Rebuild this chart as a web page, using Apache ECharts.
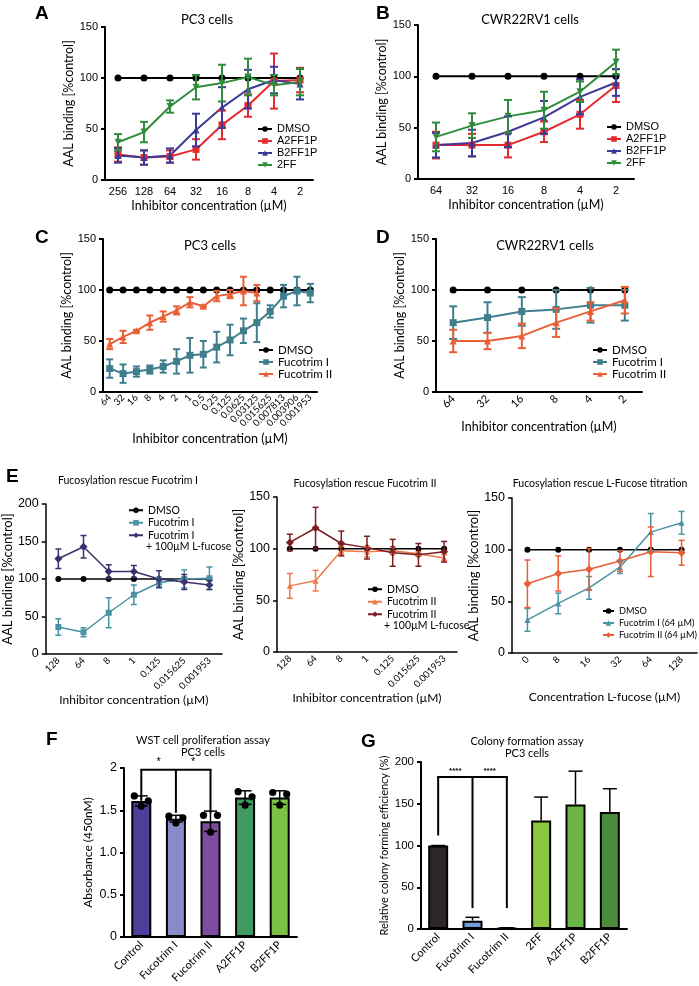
<!DOCTYPE html>
<html>
<head>
<meta charset="utf-8">
<script src="https://cdn.jsdelivr.net/npm/echarts@6/dist/echarts.min.js"></script>
<style>
html,body{margin:0;padding:0;background:#fff;}
#main{width:699px;height:986px;}
</style>
</head>
<body>
<div id="main"></div>
<script>
// ---- A: PC3 cells
const aDose = ['256', '128', '64', '32', '16', '8', '4', '2'];
const aDmso = [100, 100, 100, 100, 100, 100, 100, 100];
const aA2ff1p = [25, 22, 23, 30, 54, 73, 97, 98];
const aA2ff1pSd = [7, 7, 6, 10, 14, 11, 27, 12];
const aB2ff1p = [24, 22, 24, 49, 71, 89, 98, 94];
const aB2ff1pSd = [7, 7, 7, 16, 20, 19, 13, 15];
const a2ff = [37, 47, 72, 91, 95, 101, 93, 96];
const a2ffSd = [8, 10, 6, 12, 18, 18, 10, 13];

// ---- B: CWR22RV1 cells
const bDose = ['64', '32', '16', '8', '4', '2'];
const bDmso = [100, 100, 100, 100, 100, 100];
const bA2ff1p = [33, 33, 33, 46, 63, 91];
const bA2ff1pSd = [13, 11, 12, 10, 14, 16];
const bB2ff1p = [33, 35, 46, 60, 80, 94];
const bB2ff1pSd = [12, 13, 15, 16, 17, 13];
const b2ff = [41, 52, 61, 67, 85, 114];
const b2ffSd = [14, 12, 16, 18, 10, 12];

// ---- C: PC3 cells, Fucotrim
const cDose = ['64', '32', '16', '8', '4', '2', '1', '0.5', '0.25', '0.125', '0.0625',
  '0.03125', '0.015625', '0.007813', '0.003906', '0.001953'];
const cDmso = [100, 100, 100, 100, 100, 100, 100, 100, 100, 100, 100, 100, 100, 100, 100, 100];
const cFucI = [23, 18, 20, 22, 25, 30, 36, 37, 44, 51, 60, 68, 79, 94, 99, 97];
const cFucISd = [9, 9, 5, 4, 6, 12, 17, 13, 15, 15, 12, 19, 6, 11, 14, 9];
const cFucII = [47, 54, 60, 68, 74, 80, 88, 84, 94, 96, 99, 97];
const cFucIISd = [5, 6, 1, 7, 5, 4, 5, 1, 5, 4, 14, 8];

// ---- D: CWR22RV1 cells, Fucotrim
const dDose = ['64', '32', '16', '8', '4', '2'];
const dDmso = [100, 100, 100, 100, 100, 100];
const dFucI = [68, 73, 79, 81, 85, 85];
const dFucISd = [16, 15, 14, 19, 17, 15];
const dFucII = [50, 50, 55, 68, 79, 90];
const dFucIISd = [11, 8, 12, 14, 9, 13];

// ---- E: fucosylation rescue
const eDose = ['128', '64', '8', '1', '0.125', '0.015625', '0.001953'];
const e1Dmso = [100, 100, 100, 100, 100, 100, 100];
const e1FucI = [36, 29, 55, 79, 95, 100, 101];
const e1FucISd = [11, 6, 20, 13, 7, 12, 15];
const e1FucIFuc = [127, 143, 110, 110, 100, 96, 92];
const e1FucIFucSd = [13, 15, 9, 8, 11, 10, 6];

const e2Dmso = [100, 100, 100, 100, 100, 100, 100];
const e2FucII = [64, 69, 98, 97, 98, 95, 91];
const e2FucIISd = [12, 10, 4, 5, 3, 2, 3];
const e2FucIIFuc = [106, 120, 105, 101, 96, 94, 97];
const e2FucIIFucSd = [8, 20, 12, 11, 13, 11, 10];

const e3Fucose = ['0', '8', '16', '32', '64', '128'];
const e3Dmso = [100, 100, 100, 100, 100, 100];
const e3FucI = [32, 48, 63, 83, 117, 126];
const e3FucISd = [11, 10, 11, 6, 18, 11];
const e3FucII = [67, 77, 81, 89, 98, 97];
const e3FucIISd = [23, 17, 20, 10, 24, 12];

// ---- F: WST proliferation
const fGroups = ['Control', 'Fucotrim I', 'Fucotrim II', 'A2FF1P', 'B2FF1P'];
const fMean = [1.61, 1.40, 1.37, 1.65, 1.65];
const fSd = [0.06, 0.04, 0.12, 0.08, 0.08];
const fRepLeft = [1.67, 1.43, 1.44, 1.72, 1.71];
const fRepMid = [1.55, 1.35, 1.24, 1.56, 1.56];
const fRepRight = [1.61, 1.41, 1.44, 1.66, 1.69];
const fBracketTop = 1.98;
const fBracketLegs = [1.62, 1.47, 1.47];
const fStars = ['*', '*'];

// ---- G: colony formation
const gGroups = ['Control', 'Fucotrim I', 'Fucotrim II', '2FF', 'A2FF1P', 'B2FF1P'];
const gMean = [100, 10, 1, 130, 149, 140];
const gSd = [0, 4, 0.5, 28, 40, 28];
const gBracketTop = 182;
const gBracketLegs = [112, 25, 25];
const gStars = ['****', '****'];

const ARIAL = 'Liberation Sans';
const MYR = 'Lato';
const RED = '#e52a2f', BLUE = '#3b3a98', GREEN = '#2f8c3c';
const TEAL = '#3f7f8d', ORANGE = '#e95f38';
const E_TEAL = '#4a93a3', E_PURPLE = '#3b306c', E_ORANGE = '#f0794a', E_DARKRED = '#7a1f24';
const fColors = ['#4b3f9b', '#8b89c9', '#7e4b9f', '#3f9a62', '#7bc143'];
const gColors = ['#2b2628', '#6e9fd8', '#333', '#8dc63f', '#6ab544', '#4b8b3b'];

const grids = [
  {left: 105, top: 27, width: 208, height: 153},   // A
  {left: 418, top: 25, width: 216, height: 154},   // B
  {left: 103, top: 239, width: 214, height: 153},  // C
  {left: 436, top: 239, width: 206, height: 153},  // D
  {left: 39, top: 504, width: 183, height: 150},   // E1
  {left: 277, top: 497, width: 180, height: 155},  // E2
  {left: 512, top: 498, width: 185, height: 155},  // E3
  {left: 124, top: 768, width: 173, height: 169},  // F
  {left: 421, top: 762, width: 206, height: 167}   // G
];

function xAx(gi, cats, o) {
  return {
    gridIndex: gi, type: 'category', data: cats, boundaryGap: true,
    axisLine: {lineStyle: {color: '#000', width: o.lw || 2}},
    axisTick: {alignWithLabel: true, length: 4, lineStyle: {color: '#000', width: o.lw || 2}},
    axisLabel: {color: '#000', fontFamily: o.lf || ARIAL, fontSize: o.fs || 11, rotate: o.rot || 0,
      margin: o.margin || 6, interval: 0},
    name: o.name || '', nameLocation: 'middle', nameGap: o.gap || 20,
    nameTextStyle: {fontFamily: MYR, fontSize: o.nfs || 12.5, color: '#000'},
    splitLine: {show: false}
  };
}

function yAx(gi, max, interval, o) {
  return {
    gridIndex: gi, type: 'value', min: 0, max: max, interval: interval,
    axisLine: {show: true, lineStyle: {color: '#000', width: o.lw || 2}},
    axisTick: {show: true, length: 4, lineStyle: {color: '#000', width: o.lw || 2}},
    axisLabel: {color: '#000', fontFamily: ARIAL, fontSize: o.fs || 11, margin: o.margin || 7,
      formatter: o.fmt},
    name: o.name, nameLocation: 'middle', nameGap: o.gap || 28,
    nameTextStyle: {fontFamily: MYR, fontSize: o.nfs || 12.5, color: '#000'},
    splitLine: {show: false}
  };
}

function ln(name, gi, data, color, sym, o) {
  o = o || {};
  return {
    type: 'line', name: name, xAxisIndex: gi, yAxisIndex: gi, data: data,
    symbol: sym, symbolSize: o.ss || 7, symbolRotate: o.rot || 0,
    itemStyle: {color: color}, lineStyle: {color: color, width: o.lw || 2},
    z: o.z || 3, emphasis: {disabled: true}
  };
}

function errs(gi, vals, sds, color, o) {
  o = o || {};
  const data = vals.map((v, i) => [i, v - sds[i], v + sds[i]]);
  const cap = o.cap || 8, lw = o.lw || 2;
  return {
    type: 'custom', xAxisIndex: gi, yAxisIndex: gi, data: data, silent: true, z: o.z || 4,
    encode: {x: 0, y: [1, 2]},
    renderItem(params, api) {
      const x = api.value(0);
      const hi = api.coord([x, api.value(2)]);
      const lo = api.coord([x, o.upper ? vals[x] : api.value(1)]);
      const st = {stroke: color, lineWidth: lw};
      const kids = [
        {type: 'line', shape: {x1: hi[0], y1: hi[1], x2: lo[0], y2: lo[1]}, style: st},
        {type: 'line', shape: {x1: hi[0] - cap / 2, y1: hi[1], x2: hi[0] + cap / 2, y2: hi[1]}, style: st}
      ];
      if (!o.upper) {
        kids.push({type: 'line', shape: {x1: lo[0] - cap / 2, y1: lo[1], x2: lo[0] + cap / 2, y2: lo[1]}, style: st});
      }
      return {type: 'group', children: kids};
    }
  };
}

function bracket(gi, top, legs, stars, font) {
  return {
    type: 'custom', xAxisIndex: gi, yAxisIndex: gi, data: [[0, top]], silent: true, z: 6,
    renderItem(params, api) {
      const st = {stroke: '#000', lineWidth: 2};
      const a = api.coord([0, top]), b = api.coord([legs.length - 1, top]);
      const kids = [{type: 'line', shape: {x1: a[0] - 1, y1: a[1], x2: b[0] + 1, y2: b[1]}, style: st}];
      legs.forEach((v, i) => {
        const p = api.coord([i, top]), q = api.coord([i, v]);
        kids.push({type: 'line', shape: {x1: p[0], y1: p[1], x2: q[0], y2: q[1]}, style: st});
      });
      stars.forEach((s, i) => {
        const p = api.coord([i, top]), q = api.coord([i + 1, top]);
        kids.push({type: 'text', style: {text: s, x: (p[0] + q[0]) / 2, y: p[1] - 2,
          align: 'center', verticalAlign: 'bottom', font: font, fill: '#000'}});
      });
      return {type: 'group', children: kids};
    }
  };
}

function dots(gi, left, mid, right) {
  const offs = [-7, 0, 7];
  return {
    type: 'custom', xAxisIndex: gi, yAxisIndex: gi, silent: true, z: 5,
    data: left.map((v, i) => [i, v, mid[i], right[i]]),
    renderItem(params, api) {
      const x = api.value(0);
      const kids = [1, 2, 3].map((d, k) => {
        const p = api.coord([x, api.value(d)]);
        return {type: 'circle', shape: {cx: p[0] + offs[k], cy: p[1], r: 3.6}, style: {fill: '#000'}};
      });
      return {type: 'group', children: kids};
    }
  };
}

function legend(names, left, top, o) {
  o = o || {};
  return {
    data: names, left: left, top: top, orient: 'vertical', padding: 0, itemGap: o.gap || 0,
    itemWidth: o.iw || 14, itemHeight: 7, selectedMode: false,
    formatter: n => n.split('|')[1].replace('+', ''),
    textStyle: {fontFamily: o.font || ARIAL, fontSize: o.fs || 11, color: '#000', lineHeight: o.lh || 12}
  };
}

const fmtF = v => v === 0 ? '0' : (v === 2 ? '2' : v.toFixed(1));
const yNameAAL = 'AAL binding [%control]';
const xNameInh = 'Inhibitor concentration (\u00b5M)';

const option = {
  animation: false,
  backgroundColor: '#fff',
  grid: grids,
  title: [
    {text: 'A', left: 30, top: -1},
    {text: 'B', left: 371, top: -1},
    {text: 'C', left: 30, top: 223},
    {text: 'D', left: 371, top: 223},
    {text: 'E', left: 1, top: 462},
    {text: 'F', left: 41, top: 725},
    {text: 'G', left: 356, top: 727}
  ].map(t => Object.assign(t, {textStyle: {fontFamily: ARIAL, fontSize: 19, fontWeight: 'bold', color: '#000'}}))
   .concat([
    {text: 'PC3 cells', left: 207, top: 14},
    {text: 'CWR22RV1 cells', left: 530, top: 14},
    {text: 'PC3 cells', left: 210, top: 240},
    {text: 'CWR22RV1 cells', left: 545, top: 240},
    {text: 'Fucosylation rescue Fucotrim I', left: 128, top: 475, fs: 10.5},
    {text: 'Fucosylation rescue Fucotrim II', left: 365, top: 478, fs: 10.5},
    {text: 'Fucosylation rescue L-Fucose titration', left: 600, top: 478, fs: 10.5},
    {text: 'WST cell proliferation assay\nPC3 cells', left: 203, top: 734, fs: 11},
    {text: 'Colony formation assay\nPC3 cells', left: 527, top: 735, fs: 11}
  ].map(t => ({text: t.text, left: t.left, top: t.top, textAlign: 'center', padding: 0,
    textStyle: {fontFamily: MYR, fontSize: t.fs || 13, fontWeight: 'normal', color: '#000', lineHeight: 12}}))),
  legend: [
    legend(['A|DMSO', 'A|A2FF1P', 'A|B2FF1P', 'A|2FF'], 257, 123),
    legend(['B|DMSO', 'B|A2FF1P', 'B|B2FF1P', 'B|2FF'], 606, 121),
    legend(['C|DMSO', 'C|Fucotrim I', 'C|Fucotrim II'], 258, 344, {font: MYR, fs: 11.5}),
    legend(['D|DMSO', 'D|Fucotrim I', 'D|Fucotrim II'], 592, 344, {font: MYR, fs: 11.5}),
    legend(['E1|DMSO', 'E1|Fucotrim I', 'E1|Fucotrim I+'], 128, 504, {font: MYR, fs: 10.5, lh: 12.5}),
    legend(['E2|DMSO', 'E2|Fucotrim II', 'E2|Fucotrim II+'], 367, 583, {font: MYR, fs: 10.5, lh: 12.5}),
    legend(['E3|DMSO', 'E3|Fucotrim I (64 \u00b5M)', 'E3|Fucotrim II (64 \u00b5M)'], 602, 605,
      {font: MYR, fs: 9.2, lh: 12, iw: 11})
  ],
  graphic: [
    {type: 'text', x: 146, y: 541, style: {text: '+ 100\u00b5M L-fucose', font: '10.5px Lato', fill: '#000'}},
    {type: 'text', x: 384, y: 620, style: {text: '+ 100\u00b5M L-fucose', font: '10.5px Lato', fill: '#000'}}
  ],
  xAxis: [
    xAx(0, aDose, {name: xNameInh, gap: 19}),
    xAx(1, bDose, {name: xNameInh, gap: 19}),
    xAx(2, cDose, {name: xNameInh, gap: 40, rot: 45, fs: 9.5, lf: MYR, margin: 4}),
    xAx(3, dDose, {name: xNameInh, gap: 28, rot: 45, fs: 11, lf: MYR, margin: 5}),
    xAx(4, eDose, {name: xNameInh, gap: 38, rot: 45, fs: 9.5, lf: MYR, margin: 5, lw: 1.5, nfs: 12}),
    xAx(5, eDose, {name: xNameInh, gap: 39, rot: 45, fs: 9.5, lf: MYR, margin: 5, lw: 1.5, nfs: 12}),
    xAx(6, e3Fucose, {name: 'Concentration L-fucose (\u00b5M)', gap: 38, rot: 45, fs: 9.5, lf: MYR, margin: 5, lw: 1.5, nfs: 12}),
    xAx(7, fGroups, {rot: 45, fs: 11, lf: MYR, margin: 6}),
    xAx(8, gGroups, {rot: 45, fs: 11, lf: MYR, margin: 6})
  ],
  yAxis: [
    yAx(0, 150, 50, {name: yNameAAL, gap: 28}),
    yAx(1, 150, 50, {name: yNameAAL, gap: 28}),
    yAx(2, 150, 50, {name: yNameAAL, gap: 28}),
    yAx(3, 150, 50, {name: yNameAAL, gap: 28}),
    yAx(4, 200, 50, {name: yNameAAL, gap: 26, fs: 12.5, lw: 1.5, nfs: 13}),
    yAx(5, 150, 50, {name: yNameAAL, gap: 28, fs: 12.5, lw: 1.5, nfs: 13}),
    yAx(6, 150, 50, {name: yNameAAL, gap: 28, fs: 12.5, lw: 1.5, nfs: 13}),
    yAx(7, 2, 0.5, {name: 'Absorbance (450nM)', gap: 30, fs: 12.5, fmt: fmtF, nfs: 12}),
    yAx(8, 200, 50, {name: 'Relative colony forming efficiency (%)', gap: 31, fs: 11.5, nfs: 11})
  ],
  series: [
    // A
    ln('A|A2FF1P', 0, aA2ff1p, RED, 'rect'),
    errs(0, aA2ff1p, aA2ff1pSd, RED),
    ln('A|B2FF1P', 0, aB2ff1p, BLUE, 'triangle'),
    errs(0, aB2ff1p, aB2ff1pSd, BLUE),
    ln('A|2FF', 0, a2ff, GREEN, 'triangle', {rot: 180}),
    errs(0, a2ff, a2ffSd, GREEN),
    ln('A|DMSO', 0, aDmso, '#000', 'circle', {z: 2}),
    // B
    ln('B|A2FF1P', 1, bA2ff1p, RED, 'rect'),
    errs(1, bA2ff1p, bA2ff1pSd, RED),
    ln('B|B2FF1P', 1, bB2ff1p, BLUE, 'triangle'),
    errs(1, bB2ff1p, bB2ff1pSd, BLUE),
    ln('B|2FF', 1, b2ff, GREEN, 'triangle', {rot: 180}),
    errs(1, b2ff, b2ffSd, GREEN),
    ln('B|DMSO', 1, bDmso, '#000', 'circle', {z: 2}),
    // C
    ln('C|DMSO', 2, cDmso, '#000', 'circle', {z: 2}),
    ln('C|Fucotrim I', 2, cFucI, TEAL, 'rect'),
    errs(2, cFucI, cFucISd, TEAL, {cap: 7}),
    ln('C|Fucotrim II', 2, cFucII, ORANGE, 'triangle'),
    errs(2, cFucII, cFucIISd, ORANGE, {cap: 7}),
    // D
    ln('D|DMSO', 3, dDmso, '#000', 'circle', {z: 2}),
    ln('D|Fucotrim I', 3, dFucI, TEAL, 'rect'),
    errs(3, dFucI, dFucISd, TEAL),
    ln('D|Fucotrim II', 3, dFucII, ORANGE, 'triangle'),
    errs(3, dFucII, dFucIISd, ORANGE),
    // E1
    ln('E1|DMSO', 4, e1Dmso, '#000', 'circle', {lw: 1.5, ss: 6, z: 2}),
    ln('E1|Fucotrim I', 4, e1FucI, E_TEAL, 'rect', {lw: 1.5, ss: 6}),
    errs(4, e1FucI, e1FucISd, E_TEAL, {cap: 6, lw: 1.5}),
    ln('E1|Fucotrim I+', 4, e1FucIFuc, E_PURPLE, 'diamond', {lw: 1.5, ss: 8}),
    errs(4, e1FucIFuc, e1FucIFucSd, E_PURPLE, {cap: 6, lw: 1.5}),
    // E2
    ln('E2|DMSO', 5, e2Dmso, '#000', 'circle', {lw: 1.5, ss: 6, z: 2}),
    ln('E2|Fucotrim II', 5, e2FucII, E_ORANGE, 'triangle', {lw: 1.5, ss: 6}),
    errs(5, e2FucII, e2FucIISd, E_ORANGE, {cap: 6, lw: 1.5}),
    ln('E2|Fucotrim II+', 5, e2FucIIFuc, E_DARKRED, 'diamond', {lw: 1.5, ss: 8}),
    errs(5, e2FucIIFuc, e2FucIIFucSd, E_DARKRED, {cap: 6, lw: 1.5}),
    // E3
    ln('E3|DMSO', 6, e3Dmso, '#000', 'circle', {lw: 1.5, ss: 6, z: 2}),
    ln('E3|Fucotrim I (64 \u00b5M)', 6, e3FucI, E_TEAL, 'triangle', {lw: 1.5, ss: 6}),
    errs(6, e3FucI, e3FucISd, E_TEAL, {cap: 6, lw: 1.5}),
    ln('E3|Fucotrim II (64 \u00b5M)', 6, e3FucII, ORANGE, 'diamond', {lw: 1.5, ss: 8}),
    errs(6, e3FucII, e3FucIISd, ORANGE, {cap: 6, lw: 1.5}),
    // F
    {type: 'bar', xAxisIndex: 7, yAxisIndex: 7, barWidth: 20, silent: true,
      data: fMean.map((v, i) => ({value: v, itemStyle: {color: fColors[i]}})),
      itemStyle: {borderColor: '#000', borderWidth: 2}},
    errs(7, fMean, fSd, '#000', {cap: 13, lw: 1.5}),
    dots(7, fRepLeft, fRepMid, fRepRight),
    bracket(7, fBracketTop, fBracketLegs, fStars, '11px ' + ARIAL),
    // G
    {type: 'bar', xAxisIndex: 8, yAxisIndex: 8, barWidth: 20, silent: true,
      data: gMean.map((v, i) => ({value: v, itemStyle: {color: gColors[i]}})),
      itemStyle: {borderColor: '#000', borderWidth: 2}},
    errs(8, gMean, gSd, '#000', {cap: 14, lw: 1.5, upper: true}),
    bracket(8, gBracketTop, gBracketLegs, gStars, 'bold 8px ' + ARIAL)
  ]
};

const chart = echarts.init(document.getElementById('main'), null, {renderer: 'canvas'});
chart.setOption(option);
</script>
</body>
</html>
